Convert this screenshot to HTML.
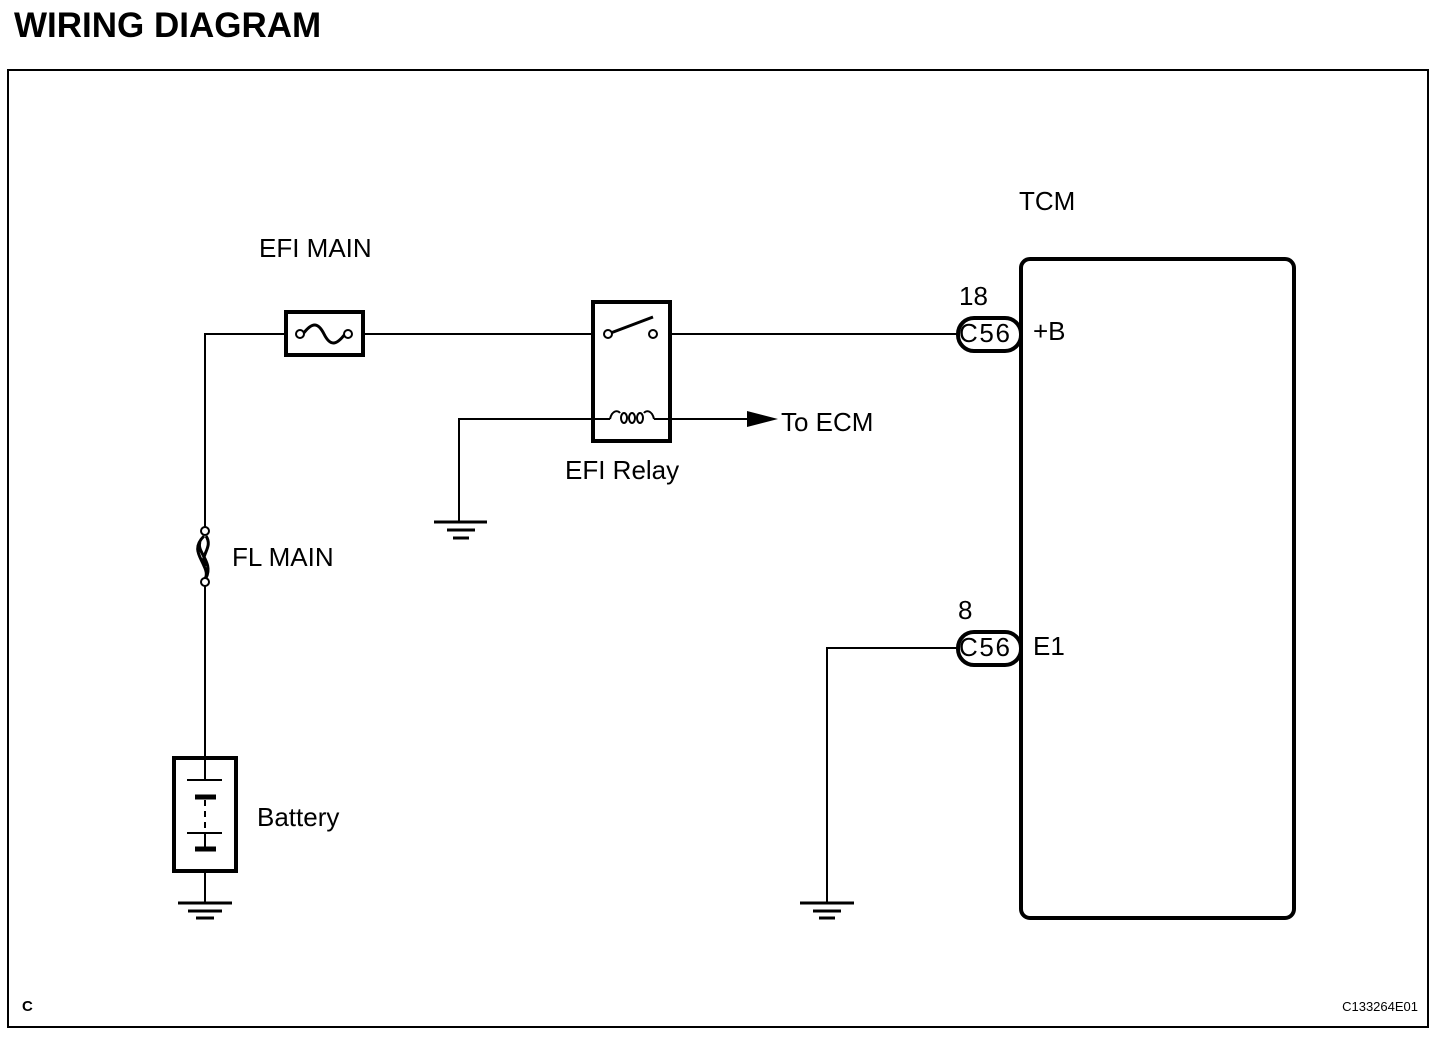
<!DOCTYPE html>
<html><head><style>
body{margin:0;background:#fff;}
svg text{font-family:"Liberation Sans",Arial,sans-serif;fill:#000;}
</style></head><body>
<svg width="1456" height="1046" viewBox="0 0 1456 1046" xmlns="http://www.w3.org/2000/svg">
<text x="14" y="37" font-size="35" font-weight="bold">WIRING DIAGRAM</text>
<rect x="8" y="70" width="1420" height="957" fill="none" stroke="#000" stroke-width="2"/>
<g stroke="#000" fill="none" stroke-width="2">
<path d="M205,528 V334 H285 M363,334 H593 M670,334 H958"/>
<rect x="286" y="312" width="77" height="43" stroke-width="4"/>
<path d="M303,334 C312,322 318,322 324,334 C330,346 336,346 345,334" stroke-width="3"/>
<circle cx="300" cy="334" r="4" fill="#fff"/>
<circle cx="348" cy="334" r="4" fill="#fff"/>
<rect x="593" y="302" width="77" height="139" stroke-width="4"/>
<line x1="608" y1="334" x2="653" y2="317" stroke-width="3"/>
<circle cx="608" cy="334" r="4" fill="#fff"/>
<circle cx="653" cy="334" r="4" fill="#fff"/>
<path d="M459,522 V419 H610 M654,419 H750"/>
<path d="M610,419 C612,410 618,410 620,413 M654,419 C652,410 646,410 644,413"/>
<ellipse cx="624" cy="418" rx="3" ry="5"/>
<ellipse cx="632" cy="418" rx="3" ry="5"/>
<ellipse cx="640" cy="418" rx="3" ry="5"/>
<path d="M434,522 H487 M447,530 H475 M453,538 H469" stroke-width="3"/>
<circle cx="205" cy="531" r="4" fill="#fff"/>
<path d="M204,536 C192,548 200,556 204,566 C208,574 206,578 204,580 M206,536 C214,548 198,556 206,566 M200,542 C196,552 214,562 206,578" stroke-width="3"/>
<circle cx="205" cy="582" r="4" fill="#fff"/>
<path d="M205,586 V757"/>
<rect x="174" y="758" width="62" height="113" stroke-width="4"/>
<path d="M205,760 V780 M187,780 H222 M205,833 V849 M187,833 H222"/>
<path d="M195,797 H216 M195,849 H216" stroke-width="5"/>
<path d="M205,800 V828" stroke-dasharray="6,5"/>
<path d="M205,871 V903"/>
<path d="M178,903 H232 M188,911 H222 M196,918 H214" stroke-width="3"/>
<path d="M958,648 H827 V903"/>
<path d="M800,903 H854 M813,911 H841 M819,918 H835" stroke-width="3"/>
<rect x="1021" y="259" width="273" height="659" rx="9" stroke-width="4"/>
<rect x="958" y="318" width="63" height="33" rx="16" stroke-width="4" fill="#fff"/>
<rect x="958" y="632" width="63" height="33" rx="16" stroke-width="4" fill="#fff"/>
</g>
<polygon points="747,411 778,419 747,427" fill="#000"/>
<g font-size="26">
<text x="259" y="257">EFI MAIN</text>
<text x="565" y="479">EFI Relay</text>
<text x="781" y="431">To ECM</text>
<text x="232" y="566">FL MAIN</text>
<text x="257" y="826">Battery</text>
<text x="1019" y="210">TCM</text>
<text x="959" y="305">18</text>
<text x="959" y="342" textLength="51">C56</text>
<text x="1033" y="340">+B</text>
<text x="958" y="619">8</text>
<text x="959" y="656" textLength="51">C56</text>
<text x="1033" y="655">E1</text>
</g>
<text x="22" y="1011" font-size="15" font-weight="bold">C</text>
<text x="1418" y="1011" font-size="13" text-anchor="end">C133264E01</text>
</svg>
</body></html>
